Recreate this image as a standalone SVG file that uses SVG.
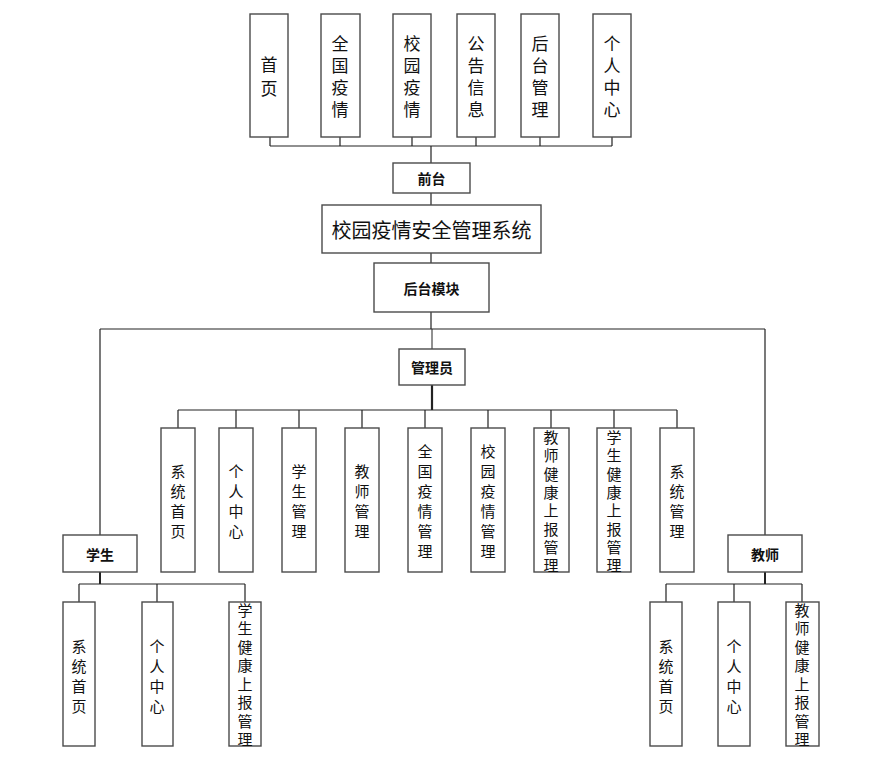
<svg xmlns="http://www.w3.org/2000/svg" width="891" height="767" viewBox="0 0 891 767">
<style>
rect{fill:#fff;stroke:#4a4a4a;stroke-width:1.4}
text{font-family:"Noto Sans CJK SC","Microsoft YaHei",sans-serif;fill:#111;text-anchor:middle;dominant-baseline:central}
.t{font-size:17px}
.m{font-size:15px}
.b{font-size:14px;font-weight:bold}
.h{font-size:20px}
#connectors path{fill:none;stroke:#222;stroke-width:1.2}
</style>
<rect x="0" y="0" width="891" height="767" style="fill:#fff;stroke:none"/>
<g id="connectors">
<path d="M270 137V146M340 137V146M412 137V146M476 137V146M540 137V146M612 137V146M270 146H612M431 146V163M431 193V205M431 253V263M431 312V329M100 329H765M100 329V535M765 329V535"/>
<path d="M432 329V349" style="stroke-width:1"/>
<path d="M432 385V410" style="stroke-width:2.2"/>
<path d="M178 410H677M178 410V428M236 410V428M299 410V428M362 410V428M425 410V428M488 410V428M551 410V428M614 410V428M677 410V428"/>
<path d="M100 572V584" style="stroke-width:2"/>
<path d="M79 584H245M79 584V602M157 584V602M245 584V602"/>
<path d="M765 572V584" style="stroke-width:2"/>
<path d="M666 584H802M666 584V602M734 584V602M802 584V602"/>
</g>
<g id="n-shouye"><rect x="250" y="14" width="38" height="123"/><text class="t" x="269"><tspan x="269" y="63">首</tspan><tspan x="269" y="87">页</tspan></text></g>
<g id="n-quanguo"><rect x="321" y="14" width="39" height="123"/><text class="t"><tspan x="340" y="42">全</tspan><tspan x="340" y="64">国</tspan><tspan x="340" y="86">疫</tspan><tspan x="340" y="108">情</tspan></text></g>
<g id="n-xiaoyuan"><rect x="393" y="14" width="38" height="123"/><text class="t"><tspan x="412" y="42">校</tspan><tspan x="412" y="64">园</tspan><tspan x="412" y="86">疫</tspan><tspan x="412" y="108">情</tspan></text></g>
<g id="n-gonggao"><rect x="457" y="14" width="38" height="123"/><text class="t"><tspan x="476" y="42">公</tspan><tspan x="476" y="64">告</tspan><tspan x="476" y="86">信</tspan><tspan x="476" y="108">息</tspan></text></g>
<g id="n-houtaiguanli"><rect x="521" y="14" width="38" height="123"/><text class="t"><tspan x="540" y="42">后</tspan><tspan x="540" y="64">台</tspan><tspan x="540" y="86">管</tspan><tspan x="540" y="108">理</tspan></text></g>
<g id="n-geren"><rect x="593" y="14" width="38" height="123"/><text class="t"><tspan x="612" y="42">个</tspan><tspan x="612" y="64">人</tspan><tspan x="612" y="86">中</tspan><tspan x="612" y="108">心</tspan></text></g>
<g id="n-qiantai"><rect x="393" y="163" width="77" height="30"/><text class="b" x="431.5" y="178">前台</text></g>
<g id="n-title"><rect x="322" y="205" width="219" height="48"/><text class="h" x="431.5" y="229">校园疫情安全管理系统</text></g>
<g id="n-houtaimokuai"><rect x="374" y="263" width="115" height="49"/><text class="b" x="431.5" y="288">后台模块</text></g>
<g id="n-admin"><rect x="399" y="349" width="66" height="36"/><text class="b" x="432" y="367">管理员</text></g>
<g id="a-1"><rect x="161" y="428" width="34" height="144"/><text class="m"><tspan x="178" y="470">系</tspan><tspan x="178" y="490">统</tspan><tspan x="178" y="510">首</tspan><tspan x="178" y="530">页</tspan></text></g>
<g id="a-2"><rect x="219" y="428" width="34" height="144"/><text class="m"><tspan x="236" y="470">个</tspan><tspan x="236" y="490">人</tspan><tspan x="236" y="510">中</tspan><tspan x="236" y="530">心</tspan></text></g>
<g id="a-3"><rect x="282" y="428" width="34" height="144"/><text class="m"><tspan x="299" y="470">学</tspan><tspan x="299" y="490">生</tspan><tspan x="299" y="510">管</tspan><tspan x="299" y="530">理</tspan></text></g>
<g id="a-4"><rect x="345" y="428" width="34" height="144"/><text class="m"><tspan x="362" y="470">教</tspan><tspan x="362" y="490">师</tspan><tspan x="362" y="510">管</tspan><tspan x="362" y="530">理</tspan></text></g>
<g id="a-5"><rect x="408" y="428" width="34" height="144"/><text class="m"><tspan x="425" y="450">全</tspan><tspan x="425" y="470">国</tspan><tspan x="425" y="490">疫</tspan><tspan x="425" y="510">情</tspan><tspan x="425" y="530">管</tspan><tspan x="425" y="550">理</tspan></text></g>
<g id="a-6"><rect x="471" y="428" width="34" height="144"/><text class="m"><tspan x="488" y="450">校</tspan><tspan x="488" y="470">园</tspan><tspan x="488" y="490">疫</tspan><tspan x="488" y="510">情</tspan><tspan x="488" y="530">管</tspan><tspan x="488" y="550">理</tspan></text></g>
<g id="a-7"><rect x="534" y="428" width="35" height="144"/><text class="m"><tspan x="551" y="436">教</tspan><tspan x="551" y="454.3">师</tspan><tspan x="551" y="472.6">健</tspan><tspan x="551" y="490.9">康</tspan><tspan x="551" y="509.2">上</tspan><tspan x="551" y="527.5">报</tspan><tspan x="551" y="545.8">管</tspan><tspan x="551" y="564">理</tspan></text></g>
<g id="a-8"><rect x="597" y="428" width="34" height="144"/><text class="m"><tspan x="614" y="436">学</tspan><tspan x="614" y="454.3">生</tspan><tspan x="614" y="472.6">健</tspan><tspan x="614" y="490.9">康</tspan><tspan x="614" y="509.2">上</tspan><tspan x="614" y="527.5">报</tspan><tspan x="614" y="545.8">管</tspan><tspan x="614" y="564">理</tspan></text></g>
<g id="a-9"><rect x="660" y="428" width="34" height="144"/><text class="m"><tspan x="677" y="470">系</tspan><tspan x="677" y="490">统</tspan><tspan x="677" y="510">管</tspan><tspan x="677" y="530">理</tspan></text></g>
<g id="n-student"><rect x="63" y="535" width="74" height="37"/><text class="b" x="100" y="553.5">学生</text></g>
<g id="s-1"><rect x="63" y="602" width="32" height="144"/><text class="m"><tspan x="79" y="645">系</tspan><tspan x="79" y="665">统</tspan><tspan x="79" y="685">首</tspan><tspan x="79" y="705">页</tspan></text></g>
<g id="s-2"><rect x="142" y="602" width="31" height="144"/><text class="m"><tspan x="157" y="645">个</tspan><tspan x="157" y="665">人</tspan><tspan x="157" y="685">中</tspan><tspan x="157" y="705">心</tspan></text></g>
<g id="s-3"><rect x="229" y="602" width="32" height="144"/><text class="m"><tspan x="245" y="608.5">学</tspan><tspan x="245" y="627">生</tspan><tspan x="245" y="645.5">健</tspan><tspan x="245" y="664">康</tspan><tspan x="245" y="682.5">上</tspan><tspan x="245" y="701">报</tspan><tspan x="245" y="719.5">管</tspan><tspan x="245" y="738">理</tspan></text></g>
<g id="n-teacher"><rect x="728" y="535" width="74" height="37"/><text class="b" x="765" y="553.5">教师</text></g>
<g id="t-1"><rect x="650" y="602" width="32" height="144"/><text class="m"><tspan x="666" y="645">系</tspan><tspan x="666" y="665">统</tspan><tspan x="666" y="685">首</tspan><tspan x="666" y="705">页</tspan></text></g>
<g id="t-2"><rect x="718" y="602" width="32" height="144"/><text class="m"><tspan x="734" y="645">个</tspan><tspan x="734" y="665">人</tspan><tspan x="734" y="685">中</tspan><tspan x="734" y="705">心</tspan></text></g>
<g id="t-3"><rect x="786" y="602" width="33" height="144"/><text class="m"><tspan x="802" y="608.5">教</tspan><tspan x="802" y="627">师</tspan><tspan x="802" y="645.5">健</tspan><tspan x="802" y="664">康</tspan><tspan x="802" y="682.5">上</tspan><tspan x="802" y="701">报</tspan><tspan x="802" y="719.5">管</tspan><tspan x="802" y="738">理</tspan></text></g>
</svg>
